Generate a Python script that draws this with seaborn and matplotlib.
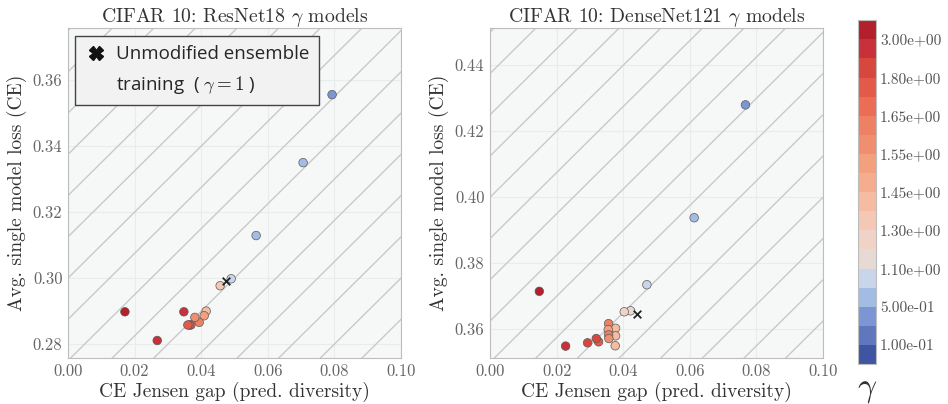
import matplotlib

matplotlib.use("Agg")
import matplotlib.pyplot as plt
import matplotlib.colors as mcolors
from matplotlib.lines import Line2D
import numpy as np
import pandas as pd
import seaborn as sns

# ResNet18 points
res_x = [0.0793, 0.0706, 0.0565, 0.0490, 0.0457, 0.0415, 0.0409, 0.0394, 0.0381,
         0.0369, 0.0365, 0.0360, 0.0348, 0.0268, 0.0171]
res_y = [0.3556, 0.3350, 0.3129, 0.2998, 0.2977, 0.2900, 0.2886, 0.2866, 0.2881,
         0.2858, 0.2858, 0.2858, 0.2898, 0.2811, 0.2898]
res_lvl = [2, 3, 3, 4, 7, 8, 10, 12, 11, 13, 14, 14, 16, 16, 17]
res_base = (0.0474, 0.2992)

# DenseNet121 points
dense_x = [0.0767, 0.0613, 0.0471, 0.0422, 0.0403, 0.0377, 0.0377, 0.0376, 0.0356,
           0.0355, 0.0356, 0.0357, 0.0326, 0.0319, 0.0293, 0.0227, 0.0148]
dense_y = [0.4280, 0.3938, 0.3735, 0.3656, 0.3653, 0.3603, 0.3580, 0.3550, 0.3617,
           0.3599, 0.3583, 0.3572, 0.3562, 0.3572, 0.3559, 0.3549, 0.3715]
dense_lvl = [2, 3, 4, 5, 6, 8, 8, 8, 12, 10, 12, 11, 14, 15, 15, 16, 17]
dense_base = (0.0440, 0.3646)

# gamma colour levels, bottom to top of the colour bar
level_colors = ["#4054a4", "#5f78bd", "#7b96d2", "#a3bce4", "#c8d5ea", "#e7d9d3",
                "#f0d3c6", "#f4c8b4", "#f5bca2", "#f4ae8f", "#f3a07f", "#f08f70",
                "#ee8064", "#ea6e55", "#e35a48", "#d8473d", "#c8303a", "#b2202c"]
gamma_labels = ["1.00e-01", "5.00e-01", "1.10e+00", "1.30e+00", "1.45e+00",
                "1.55e+00", "1.65e+00", "1.80e+00", "3.00e+00"]
n_levels = len(level_colors)

sns.set_style("whitegrid", rc={
    "axes.facecolor": "#f6f8f8",
    "axes.edgecolor": "#bdbdbd",
    "grid.color": "#e9ecec",
    "grid.linewidth": 0.8,
})
plt.rcParams["font.family"] = ["cmr10", "DejaVu Serif"]
plt.rcParams["mathtext.fontset"] = "cm"
plt.rcParams["axes.unicode_minus"] = False
plt.rcParams["axes.formatter.use_mathtext"] = True

palette = {i: level_colors[i] for i in range(n_levels)}

fig = plt.figure(figsize=(9.48, 4.04), dpi=100)
ax1 = fig.add_axes([0.0717, 0.1139, 0.3513, 0.8168])
ax2 = fig.add_axes([0.5169, 0.1139, 0.3513, 0.8168])
cax = fig.add_axes([0.905, 0.099, 0.019, 0.851])

panels = [
    (ax1, res_x, res_y, res_lvl, res_base, "ResNet18", (0.2758, 0.3758)),
    (ax2, dense_x, dense_y, dense_lvl, dense_base, "DenseNet121", (0.3513, 0.4513)),
]

for ax, xs, ys, lvls, base, name, ylim in panels:
    # iso-ensemble-loss lines: y - x = const
    xx = np.array([-0.2, 0.3])
    for k in range(0, 60):
        c = k * 0.0125
        ax.plot(xx, xx + c, color="#c8caca", lw=1.0, zorder=1)

    df = pd.DataFrame({"x": xs, "y": ys, "lvl": lvls})
    sns.scatterplot(data=df, x="x", y="y", hue="lvl", palette=palette, ax=ax,
                    s=38, edgecolor="#5a5a5a", linewidth=0.5, legend=False, zorder=3)
    ax.scatter([base[0]], [base[1]], marker="x", color="#222222", s=30,
               linewidths=1.3, zorder=4)

    ax.set_xlim(0, 0.1)
    ax.set_ylim(*ylim)
    ax.set_xticks(np.arange(0, 0.101, 0.02))
    ax.set_xticklabels([f"{v:.2f}" for v in np.arange(0, 0.101, 0.02)])
    ax.tick_params(labelsize=12, colors="#666666", length=0, pad=4)
    ax.set_title(f"CIFAR 10: {name} $\\gamma$ models", fontsize=14.2, color="#333333", pad=4)
    ax.set_xlabel("CE Jensen gap (pred. diversity)", fontsize=14, color="#333333", labelpad=2)
    ax.set_ylabel("Avg. single model loss (CE)", fontsize=14, color="#333333", labelpad=4)
    for sp in ax.spines.values():
        sp.set_color("#bdbdbd")

ax1.set_yticks([0.28, 0.30, 0.32, 0.34, 0.36])
ax1.set_yticklabels(["0.28", "0.30", "0.32", "0.34", "0.36"])
ax2.set_yticks([0.36, 0.38, 0.40, 0.42, 0.44])
ax2.set_yticklabels(["0.36", "0.38", "0.40", "0.42", "0.44"])

handles = [Line2D([], [], marker="X", color="#111111", linestyle="none", markersize=10),
           Line2D([], [], linestyle="none")]
labels = ["Unmodified ensemble", "training  ( $\\gamma = 1$ )"]
leg = ax1.legend(handles, labels, loc="upper left", bbox_to_anchor=(0.021, 0.976),
                 frameon=True, fancybox=False, handletextpad=0.5, borderpad=0.5,
                 labelspacing=0.55, handlelength=1.2, borderaxespad=0,
                 prop={"family": "Open Sans", "size": 13.5})
leg.get_frame().set_edgecolor("#444444")
leg.get_frame().set_facecolor("#f2f2f2")
leg.get_frame().set_linewidth(1.0)
leg.get_frame().set_alpha(1)

cmap = mcolors.ListedColormap(level_colors)
norm = mcolors.BoundaryNorm(np.arange(n_levels + 1), n_levels)
cb = fig.colorbar(plt.cm.ScalarMappable(norm=norm, cmap=cmap), cax=cax,
                  ticks=np.arange(1, n_levels, 2))
cb.set_ticklabels(gamma_labels)
cb.minorticks_off()
cb.ax.tick_params(which="both", labelsize=11, colors="#555555", length=0, pad=3)
cb.outline.set_edgecolor("#bdbdbd")
cb.ax.grid(False)
cax.text(0.5, -0.035, "$\\gamma$", transform=cax.transAxes, ha="center", va="top",
         fontsize=24, color="#333333")

fig.savefig("out.png", dpi=100)
